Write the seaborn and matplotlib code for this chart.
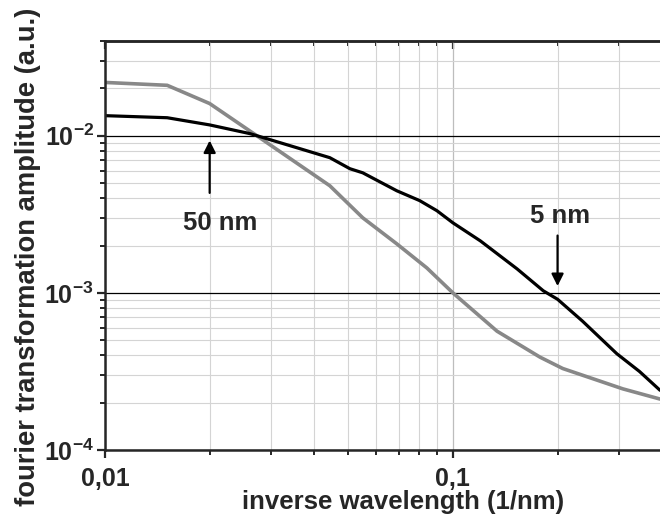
import numpy as np
import pandas as pd
import matplotlib
matplotlib.use('Agg')
import matplotlib.pyplot as plt
from matplotlib.ticker import LogLocator, FixedLocator, FixedFormatter, NullFormatter
import seaborn as sns

# values
black_x = [0.0100, 0.0151, 0.0200, 0.0261, 0.0273, 0.0340, 0.0443, 0.0506, 0.0551,
           0.0690, 0.0803, 0.0900, 0.1000, 0.1200, 0.1530, 0.1820, 0.2000, 0.2360,
           0.2960, 0.3440, 0.3940]
black_y = [0.0134, 0.0130, 0.0117, 0.0103, 0.0100, 0.00864, 0.00724, 0.00616, 0.0058,
           0.00446, 0.00386, 0.00333, 0.00279, 0.00214, 0.00142, 0.00103, 0.00091, 0.00066,
           0.00041, 0.000316, 0.00024]

gray_x = [0.0100, 0.0151, 0.0200, 0.0273, 0.0443, 0.0551, 0.0690, 0.0842, 0.1000,
          0.1340, 0.1780, 0.2070, 0.3080, 0.3940]
gray_y = [0.0218, 0.0209, 0.0160, 0.0100, 0.0048, 0.0030, 0.00205, 0.00144, 0.00100,
          0.00057, 0.00039, 0.00033, 0.000245, 0.000211]

x_ticks = [0.01, 0.1]
x_labels = ['0,01', '0,1']
y_ticks = [1e-4, 1e-3, 1e-2]
y_labels = [r'$\mathbf{10^{-4}}$', r'$\mathbf{10^{-3}}$', r'$\mathbf{10^{-2}}$']

sns.set_style('ticks')
plt.rcParams['font.family'] = ['Liberation Sans', 'DejaVu Sans']
plt.rcParams['font.weight'] = 'bold'
plt.rcParams['mathtext.fontset'] = 'custom'
plt.rcParams['mathtext.bf'] = 'Liberation Sans:bold'
plt.rcParams['mathtext.rm'] = 'Liberation Sans:bold'

df_black = pd.DataFrame({'x': black_x, 'y': black_y})
df_gray = pd.DataFrame({'x': gray_x, 'y': gray_y})

fig = plt.figure(figsize=(6.6, 5.29), dpi=100)
ax = fig.add_axes([0.159, 0.1493, 0.841, 0.7732])

ax.set_xscale('log')
ax.set_yscale('log')

# grid first so curves sit on top
ax.grid(True, which='minor', axis='both', color='#d4d4d4', lw=0.8)
ax.grid(True, which='major', axis='x', color='#bdbdbd', lw=0.9)
ax.grid(True, which='major', axis='y', color='black', lw=0.9)
ax.set_axisbelow(True)

sns.lineplot(data=df_gray, x='x', y='y', ax=ax, color='#888888', lw=2.6,
             estimator=None, sort=False)
sns.lineplot(data=df_black, x='x', y='y', ax=ax, color='black', lw=2.3,
             estimator=None, sort=False)

ax.set_xlim(0.01, 0.394)
ax.set_ylim(1e-4, 0.04)

ax.xaxis.set_major_locator(FixedLocator(x_ticks))
ax.xaxis.set_major_formatter(FixedFormatter(x_labels))
ax.xaxis.set_minor_locator(LogLocator(base=10, subs=np.arange(2, 10)))
ax.xaxis.set_minor_formatter(NullFormatter())
ax.yaxis.set_major_locator(FixedLocator(y_ticks))
ax.yaxis.set_major_formatter(FixedFormatter(y_labels))
ax.yaxis.set_minor_locator(LogLocator(base=10, subs=np.arange(2, 10)))
ax.yaxis.set_minor_formatter(NullFormatter())

ax.tick_params(which='major', length=6, width=1.6, labelsize=18, direction='out')
ax.tick_params(which='minor', length=3.5, width=1.4, direction='out')
ax.tick_params(axis='x', which='major', pad=6)
ax.tick_params(axis='y', which='major', pad=2)

top = ax.secondary_xaxis('top')
top.set_xscale('log')
top.xaxis.set_major_locator(FixedLocator(x_ticks))
top.xaxis.set_minor_locator(LogLocator(base=10, subs=np.arange(2, 10)))
top.xaxis.set_major_formatter(NullFormatter())
top.xaxis.set_minor_formatter(NullFormatter())
top.tick_params(which='major', length=6, width=1.6, direction='in')
top.tick_params(which='minor', length=3.5, width=1.4, direction='in')
top.spines['top'].set_linewidth(1.8)

for side in ['left', 'bottom']:
    ax.spines[side].set_linewidth(1.8)
ax.spines['top'].set_linewidth(1.8)
ax.spines['right'].set_visible(False)

ax.set_xlabel('inverse wavelength (1/nm)', fontsize=18.5, fontweight='bold')
ax.set_ylabel('fourier transformation amplitude (a.u.)', fontsize=19.7, fontweight='bold')
ax.xaxis.set_label_coords(0.537, -0.098)
ax.yaxis.set_label_coords(-0.115, 0.472)

ax.annotate('', xy=(0.02, 0.0097), xytext=(0.02, 0.00415),
            arrowprops=dict(arrowstyle='-|>', color='black', lw=1.6, mutation_scale=18))
ax.text(0.0214, 0.00279, '50 nm', ha='center', va='center', fontsize=18.5, fontweight='bold')

ax.annotate('', xy=(0.2, 0.00106), xytext=(0.2, 0.00241),
            arrowprops=dict(arrowstyle='-|>', color='black', lw=1.6, mutation_scale=18))
ax.text(0.204, 0.0031, '5 nm', ha='center', va='center', fontsize=18.5, fontweight='bold')

fig.savefig('out.png', dpi=100)
